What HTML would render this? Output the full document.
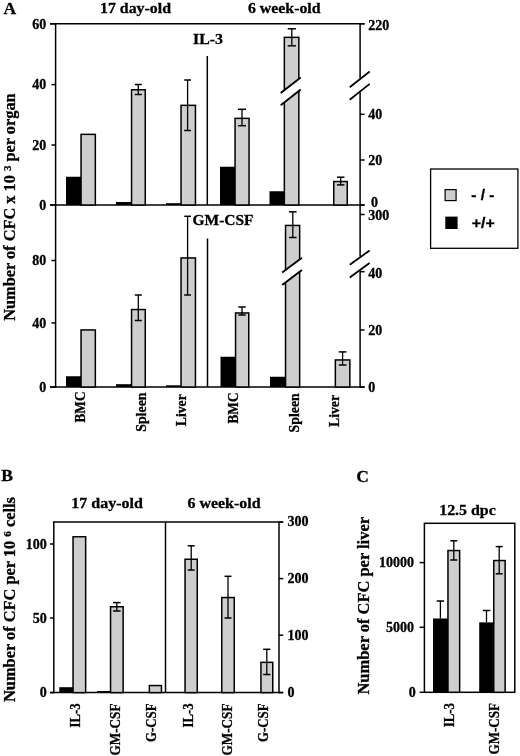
<!DOCTYPE html>
<html><head><meta charset="utf-8"><title>Figure</title>
<style>
html,body{margin:0;padding:0;background:#fff;}
svg{display:block;filter:grayscale(1);}
text{fill:#000;stroke:#000;stroke-width:0.3px;}
</style></head>
<body>
<svg width="520" height="756" viewBox="0 0 520 756">
<rect x="0" y="0" width="520" height="756" fill="#fff"/>
<text x="3.6" y="14.3" font-family='"Liberation Serif","DejaVu Serif",serif' font-weight="bold" font-size="17.5" text-anchor="start" >A</text>
<text x="100" y="13" font-family='"Liberation Serif","DejaVu Serif",serif' font-weight="bold" font-size="15" text-anchor="start" textLength="71" lengthAdjust="spacingAndGlyphs" >17 day-old</text>
<text x="248" y="13" font-family='"Liberation Serif","DejaVu Serif",serif' font-weight="bold" font-size="15" text-anchor="start" textLength="72.5" lengthAdjust="spacingAndGlyphs" >6 week-old</text>
<line x1="50" y1="23.8" x2="364.6" y2="23.8" stroke="#000" stroke-width="1.5" />
<line x1="55.6" y1="23.05" x2="55.6" y2="387.75" stroke="#000" stroke-width="1.5" />
<line x1="50" y1="205.0" x2="364.6" y2="205.0" stroke="#000" stroke-width="1.5" />
<line x1="50" y1="387.0" x2="364.6" y2="387.0" stroke="#000" stroke-width="1.5" />
<line x1="360.1" y1="23.8" x2="360.1" y2="78.5" stroke="#000" stroke-width="1.5" />
<line x1="360.1" y1="92.3" x2="360.1" y2="256.5" stroke="#000" stroke-width="1.5" />
<line x1="360.1" y1="270.5" x2="360.1" y2="387.75" stroke="#000" stroke-width="1.5" />
<line x1="50" y1="23.8" x2="55.6" y2="23.8" stroke="#000" stroke-width="1.5" />
<text x="46.3" y="28.55" font-family='"Liberation Serif","DejaVu Serif",serif' font-weight="bold" font-size="14" text-anchor="end" >60</text>
<line x1="51.5" y1="84.6" x2="55.6" y2="84.6" stroke="#000" stroke-width="1.5" />
<text x="46.3" y="89.35" font-family='"Liberation Serif","DejaVu Serif",serif' font-weight="bold" font-size="14" text-anchor="end" >40</text>
<line x1="51.5" y1="145" x2="55.6" y2="145" stroke="#000" stroke-width="1.5" />
<text x="46.3" y="149.75" font-family='"Liberation Serif","DejaVu Serif",serif' font-weight="bold" font-size="14" text-anchor="end" >20</text>
<line x1="50" y1="205.0" x2="55.6" y2="205.0" stroke="#000" stroke-width="1.5" />
<text x="46.3" y="209.75" font-family='"Liberation Serif","DejaVu Serif",serif' font-weight="bold" font-size="14" text-anchor="end" >0</text>
<line x1="51.5" y1="260.5" x2="55.6" y2="260.5" stroke="#000" stroke-width="1.5" />
<text x="46.3" y="265.25" font-family='"Liberation Serif","DejaVu Serif",serif' font-weight="bold" font-size="14" text-anchor="end" >80</text>
<line x1="51.5" y1="323" x2="55.6" y2="323" stroke="#000" stroke-width="1.5" />
<text x="46.3" y="327.75" font-family='"Liberation Serif","DejaVu Serif",serif' font-weight="bold" font-size="14" text-anchor="end" >40</text>
<line x1="50" y1="387.0" x2="55.6" y2="387.0" stroke="#000" stroke-width="1.5" />
<text x="46.3" y="391.75" font-family='"Liberation Serif","DejaVu Serif",serif' font-weight="bold" font-size="14" text-anchor="end" >0</text>
<line x1="360.1" y1="23.8" x2="364.6" y2="23.8" stroke="#000" stroke-width="1.5" />
<text x="368.3" y="29.55" font-family='"Liberation Serif","DejaVu Serif",serif' font-weight="bold" font-size="14" text-anchor="start" >220</text>
<line x1="360.1" y1="114.3" x2="364.6" y2="114.3" stroke="#000" stroke-width="1.5" />
<text x="368.3" y="119.05" font-family='"Liberation Serif","DejaVu Serif",serif' font-weight="bold" font-size="14" text-anchor="start" >40</text>
<line x1="360.1" y1="160" x2="364.6" y2="160" stroke="#000" stroke-width="1.5" />
<text x="368.3" y="164.75" font-family='"Liberation Serif","DejaVu Serif",serif' font-weight="bold" font-size="14" text-anchor="start" >20</text>
<line x1="360.1" y1="205.0" x2="364.6" y2="205.0" stroke="#000" stroke-width="1.5" />
<text x="371.0" y="206.75" font-family='"Liberation Serif","DejaVu Serif",serif' font-weight="bold" font-size="14" text-anchor="start" >0</text>
<line x1="360.1" y1="214.5" x2="364.6" y2="214.5" stroke="#000" stroke-width="1.5" />
<text x="368.3" y="220.25" font-family='"Liberation Serif","DejaVu Serif",serif' font-weight="bold" font-size="14" text-anchor="start" >300</text>
<line x1="360.1" y1="271.7" x2="364.6" y2="271.7" stroke="#000" stroke-width="1.5" />
<text x="368.3" y="277.75" font-family='"Liberation Serif","DejaVu Serif",serif' font-weight="bold" font-size="14" text-anchor="start" >40</text>
<line x1="360.1" y1="330" x2="364.6" y2="330" stroke="#000" stroke-width="1.5" />
<text x="368.3" y="334.75" font-family='"Liberation Serif","DejaVu Serif",serif' font-weight="bold" font-size="14" text-anchor="start" >20</text>
<line x1="360.1" y1="387.0" x2="364.6" y2="387.0" stroke="#000" stroke-width="1.5" />
<text x="368.3" y="391.75" font-family='"Liberation Serif","DejaVu Serif",serif' font-weight="bold" font-size="14" text-anchor="start" >0</text>
<line x1="207.3" y1="56" x2="207.3" y2="205.0" stroke="#000" stroke-width="1.5" />
<line x1="207.5" y1="238.5" x2="207.5" y2="387.0" stroke="#000" stroke-width="1.5" />
<text x="193" y="43.8" font-family='"Liberation Serif","DejaVu Serif",serif' font-weight="bold" font-size="14.5" text-anchor="start" textLength="30" lengthAdjust="spacingAndGlyphs" >IL-3</text>
<text x="192.5" y="225" font-family='"Liberation Serif","DejaVu Serif",serif' font-weight="bold" font-size="14.5" text-anchor="start" textLength="61" lengthAdjust="spacingAndGlyphs" >GM-CSF</text>
<rect x="66" y="176.75" width="15" height="28.25" fill="#000"/>
<rect x="81.05" y="134.35" width="14.299999999999997" height="70.65" fill="#cecece" stroke="#000" stroke-width="1.5"/>
<rect x="116" y="202" width="15.5" height="3.0" fill="#000"/>
<rect x="131.55" y="89.75" width="13.699999999999989" height="115.25" fill="#cecece" stroke="#000" stroke-width="1.5"/>
<line x1="138.3" y1="84.5" x2="138.3" y2="94.5" stroke="#000" stroke-width="1.3" />
<line x1="134.8" y1="84.5" x2="141.8" y2="84.5" stroke="#000" stroke-width="1.5" />
<line x1="134.8" y1="94.5" x2="141.8" y2="94.5" stroke="#000" stroke-width="1.5" />
<rect x="166" y="203.2" width="15" height="1.8000000000000114" fill="#000"/>
<rect x="181.05" y="105.35" width="14.399999999999977" height="99.65" fill="#cecece" stroke="#000" stroke-width="1.5"/>
<line x1="187.6" y1="80" x2="187.6" y2="130.5" stroke="#000" stroke-width="1.3" />
<line x1="184.2" y1="80" x2="191.0" y2="80" stroke="#000" stroke-width="1.5" />
<line x1="184.2" y1="130.5" x2="191.0" y2="130.5" stroke="#000" stroke-width="1.5" />
<rect x="220" y="166.75" width="15" height="38.25" fill="#000"/>
<rect x="235.05" y="118.35" width="14.0" height="86.65" fill="#cecece" stroke="#000" stroke-width="1.5"/>
<line x1="242" y1="109.3" x2="242" y2="125.7" stroke="#000" stroke-width="1.3" />
<line x1="238.0" y1="109.3" x2="246.0" y2="109.3" stroke="#000" stroke-width="1.5" />
<line x1="238.0" y1="125.7" x2="246.0" y2="125.7" stroke="#000" stroke-width="1.5" />
<rect x="269.5" y="191.25" width="15.0" height="13.75" fill="#000"/>
<rect x="284.35" y="37.35" width="14.5" height="167.65" fill="#cecece" stroke="#000" stroke-width="1.5"/>
<line x1="291.8" y1="28.8" x2="291.8" y2="45.8" stroke="#000" stroke-width="1.3" />
<line x1="287.7" y1="28.8" x2="295.90000000000003" y2="28.8" stroke="#000" stroke-width="1.5" />
<line x1="287.7" y1="45.8" x2="295.90000000000003" y2="45.8" stroke="#000" stroke-width="1.5" />
<rect x="333.75" y="181.55" width="13.5" height="23.44999999999999" fill="#cecece" stroke="#000" stroke-width="1.5"/>
<line x1="340.7" y1="177.2" x2="340.7" y2="184.9" stroke="#000" stroke-width="1.3" />
<line x1="336.95" y1="177.2" x2="344.45" y2="177.2" stroke="#000" stroke-width="1.5" />
<line x1="336.95" y1="184.9" x2="344.45" y2="184.9" stroke="#000" stroke-width="1.5" />
<rect x="66" y="376.25" width="15" height="10.75" fill="#000"/>
<rect x="81.05" y="329.95" width="14.299999999999997" height="57.05000000000001" fill="#cecece" stroke="#000" stroke-width="1.5"/>
<rect x="116" y="384.2" width="15.5" height="2.8000000000000114" fill="#000"/>
<rect x="131.55" y="309.55" width="13.699999999999989" height="77.44999999999999" fill="#cecece" stroke="#000" stroke-width="1.5"/>
<line x1="138.3" y1="295" x2="138.3" y2="320.5" stroke="#000" stroke-width="1.3" />
<line x1="134.8" y1="295" x2="141.8" y2="295" stroke="#000" stroke-width="1.5" />
<line x1="134.8" y1="320.5" x2="141.8" y2="320.5" stroke="#000" stroke-width="1.5" />
<rect x="166" y="385.3" width="15" height="1.6999999999999886" fill="#000"/>
<rect x="181.05" y="257.95" width="14.399999999999977" height="129.05" fill="#cecece" stroke="#000" stroke-width="1.5"/>
<line x1="187.6" y1="216.3" x2="187.6" y2="295" stroke="#000" stroke-width="1.3" />
<line x1="184.2" y1="216.3" x2="191.0" y2="216.3" stroke="#000" stroke-width="1.5" />
<line x1="184.2" y1="295" x2="191.0" y2="295" stroke="#000" stroke-width="1.5" />
<rect x="220.5" y="356.75" width="15.0" height="30.25" fill="#000"/>
<rect x="235.55" y="312.95" width="13.199999999999989" height="74.05000000000001" fill="#cecece" stroke="#000" stroke-width="1.5"/>
<line x1="242" y1="307" x2="242" y2="315" stroke="#000" stroke-width="1.3" />
<line x1="238.25" y1="307" x2="245.75" y2="307" stroke="#000" stroke-width="1.5" />
<line x1="238.25" y1="315" x2="245.75" y2="315" stroke="#000" stroke-width="1.5" />
<rect x="270" y="376.75" width="15.5" height="10.25" fill="#000"/>
<rect x="285.55" y="225.45" width="14.099999999999966" height="161.55" fill="#cecece" stroke="#000" stroke-width="1.5"/>
<line x1="292.8" y1="211.8" x2="292.8" y2="237.5" stroke="#000" stroke-width="1.3" />
<line x1="289.0" y1="211.8" x2="296.6" y2="211.8" stroke="#000" stroke-width="1.5" />
<line x1="289.0" y1="237.5" x2="296.6" y2="237.5" stroke="#000" stroke-width="1.5" />
<rect x="335.35" y="359.95" width="14.5" height="27.05000000000001" fill="#cecece" stroke="#000" stroke-width="1.5"/>
<line x1="342.6" y1="351.9" x2="342.6" y2="365" stroke="#000" stroke-width="1.3" />
<line x1="338.75" y1="351.9" x2="346.45000000000005" y2="351.9" stroke="#000" stroke-width="1.5" />
<line x1="338.75" y1="365" x2="346.45000000000005" y2="365" stroke="#000" stroke-width="1.5" />
<polygon points="280.7,93.0 300.7,77.4 300.7,89.60000000000001 280.7,105.2" fill="#fff"/>
<line x1="280.7" y1="93.0" x2="300.7" y2="77.4" stroke="#000" stroke-width="1.9" />
<line x1="280.7" y1="105.2" x2="300.7" y2="89.60000000000001" stroke="#000" stroke-width="1.9" />
<polygon points="282.2,272.6 301.9,257.8 301.9,270.1 282.2,284.90000000000003" fill="#fff"/>
<line x1="282.2" y1="272.6" x2="301.9" y2="257.8" stroke="#000" stroke-width="1.9" />
<line x1="282.2" y1="284.90000000000003" x2="301.9" y2="270.1" stroke="#000" stroke-width="1.9" />
<polygon points="349.7,87.3 369.7,71.5 369.7,83.9 349.7,99.7" fill="#fff"/>
<line x1="349.7" y1="87.3" x2="369.7" y2="71.5" stroke="#000" stroke-width="1.8" />
<line x1="349.7" y1="99.7" x2="369.7" y2="83.9" stroke="#000" stroke-width="1.8" />
<polygon points="349.8,264.8 369.6,250.4 369.6,263.1 349.8,277.5" fill="#fff"/>
<line x1="349.8" y1="264.8" x2="369.6" y2="250.4" stroke="#000" stroke-width="1.8" />
<line x1="349.8" y1="277.5" x2="369.6" y2="263.1" stroke="#000" stroke-width="1.8" />
<text x="85" y="391.5" font-family='"Liberation Serif","DejaVu Serif",serif' font-weight="bold" font-size="15" text-anchor="end" textLength="31" lengthAdjust="spacingAndGlyphs" transform="rotate(-90 85 391.5)" >BMC</text>
<text x="146.3" y="392.5" font-family='"Liberation Serif","DejaVu Serif",serif' font-weight="bold" font-size="15" text-anchor="end" textLength="39.3" lengthAdjust="spacingAndGlyphs" transform="rotate(-90 146.3 392.5)" >Spleen</text>
<text x="185.8" y="394.2" font-family='"Liberation Serif","DejaVu Serif",serif' font-weight="bold" font-size="15" text-anchor="end" textLength="32" lengthAdjust="spacingAndGlyphs" transform="rotate(-90 185.8 394.2)" >Liver</text>
<text x="237.6" y="392.5" font-family='"Liberation Serif","DejaVu Serif",serif' font-weight="bold" font-size="15" text-anchor="end" textLength="31" lengthAdjust="spacingAndGlyphs" transform="rotate(-90 237.6 392.5)" >BMC</text>
<text x="299.3" y="393.2" font-family='"Liberation Serif","DejaVu Serif",serif' font-weight="bold" font-size="15" text-anchor="end" textLength="39.3" lengthAdjust="spacingAndGlyphs" transform="rotate(-90 299.3 393.2)" >Spleen</text>
<text x="339.3" y="395" font-family='"Liberation Serif","DejaVu Serif",serif' font-weight="bold" font-size="15" text-anchor="end" textLength="32" lengthAdjust="spacingAndGlyphs" transform="rotate(-90 339.3 395)" >Liver</text>
<text x="15.3" y="320.8" font-family='"Liberation Serif","DejaVu Serif",serif' font-weight="bold" font-size="16.5" text-anchor="start" textLength="227.5" lengthAdjust="spacingAndGlyphs" transform="rotate(-90 15.3 320.8)" >Number of CFC x 10 <tspan font-size="11" dy="-4.5">3</tspan><tspan dy="4.5"> per organ</tspan></text>
<rect x="430.6" y="169" width="87.3" height="79.3" fill="#fff" stroke="#000" stroke-width="1.3"/>
<rect x="445.1" y="189.6" width="11" height="11" fill="#cecece" stroke="#000" stroke-width="1.2"/>
<rect x="445.3" y="216.6" width="12.3" height="12.4" fill="#000"/>
<text x="471.3" y="200" font-family='"Liberation Sans","DejaVu Sans",sans-serif' font-weight="bold" font-size="14.5" text-anchor="start" textLength="23" lengthAdjust="spacingAndGlyphs" >- / -</text>
<text x="471.7" y="227.5" font-family='"Liberation Sans","DejaVu Sans",sans-serif' font-weight="bold" font-size="14.5" text-anchor="start" textLength="23" lengthAdjust="spacingAndGlyphs" >+/+</text>
<text x="1.2" y="480.6" font-family='"Liberation Serif","DejaVu Serif",serif' font-weight="bold" font-size="17.5" text-anchor="start" >B</text>
<text x="71.3" y="508.4" font-family='"Liberation Serif","DejaVu Serif",serif' font-weight="bold" font-size="15" text-anchor="start" textLength="71.5" lengthAdjust="spacingAndGlyphs" >17 day-old</text>
<text x="187.5" y="508.4" font-family='"Liberation Serif","DejaVu Serif",serif' font-weight="bold" font-size="15" text-anchor="start" textLength="73" lengthAdjust="spacingAndGlyphs" >6 week-old</text>
<line x1="53.8" y1="522" x2="283.2" y2="522" stroke="#000" stroke-width="1.5" />
<line x1="53.8" y1="521.25" x2="53.8" y2="693.35" stroke="#000" stroke-width="1.5" />
<line x1="279" y1="522" x2="279" y2="693.35" stroke="#000" stroke-width="1.5" />
<line x1="50" y1="692.6" x2="283.2" y2="692.6" stroke="#000" stroke-width="1.5" />
<line x1="165.5" y1="522" x2="165.5" y2="692.6" stroke="#000" stroke-width="1.5" />
<line x1="50" y1="544" x2="53.8" y2="544" stroke="#000" stroke-width="1.5" />
<text x="46.8" y="548.75" font-family='"Liberation Serif","DejaVu Serif",serif' font-weight="bold" font-size="14" text-anchor="end" >100</text>
<line x1="50" y1="618" x2="53.8" y2="618" stroke="#000" stroke-width="1.5" />
<text x="46.8" y="622.75" font-family='"Liberation Serif","DejaVu Serif",serif' font-weight="bold" font-size="14" text-anchor="end" >50</text>
<line x1="50" y1="692.6" x2="53.8" y2="692.6" stroke="#000" stroke-width="1.5" />
<text x="46.8" y="697.35" font-family='"Liberation Serif","DejaVu Serif",serif' font-weight="bold" font-size="14" text-anchor="end" >0</text>
<line x1="279" y1="522" x2="283.2" y2="522" stroke="#000" stroke-width="1.5" />
<text x="287.5" y="525.8" font-family='"Liberation Serif","DejaVu Serif",serif' font-weight="bold" font-size="14" text-anchor="start" >300</text>
<line x1="279" y1="578.6" x2="283.2" y2="578.6" stroke="#000" stroke-width="1.5" />
<text x="287.5" y="582.9" font-family='"Liberation Serif","DejaVu Serif",serif' font-weight="bold" font-size="14" text-anchor="start" >200</text>
<line x1="279" y1="635.2" x2="283.2" y2="635.2" stroke="#000" stroke-width="1.5" />
<text x="287.5" y="639.5" font-family='"Liberation Serif","DejaVu Serif",serif' font-weight="bold" font-size="14" text-anchor="start" >100</text>
<line x1="279" y1="692.6" x2="283.2" y2="692.6" stroke="#000" stroke-width="1.5" />
<text x="287.5" y="696.9" font-family='"Liberation Serif","DejaVu Serif",serif' font-weight="bold" font-size="14" text-anchor="start" >0</text>
<rect x="59.3" y="687.2" width="13.700000000000003" height="5.399999999999977" fill="#000"/>
<rect x="73.05" y="536.75" width="12.600000000000009" height="155.85000000000002" fill="#cecece" stroke="#000" stroke-width="1.5"/>
<rect x="97" y="691" width="13.5" height="1.6000000000000227" fill="#000"/>
<rect x="110.55" y="606.75" width="12.600000000000009" height="85.85000000000002" fill="#cecece" stroke="#000" stroke-width="1.5"/>
<line x1="116.8" y1="602.6" x2="116.8" y2="611" stroke="#000" stroke-width="1.3" />
<line x1="113.0" y1="602.6" x2="120.6" y2="602.6" stroke="#000" stroke-width="1.5" />
<line x1="113.0" y1="611" x2="120.6" y2="611" stroke="#000" stroke-width="1.5" />
<rect x="149.35" y="685.55" width="12.099999999999994" height="7.050000000000068" fill="#cecece" stroke="#000" stroke-width="1.5"/>
<rect x="185.05" y="559.25" width="12.199999999999989" height="133.35000000000002" fill="#cecece" stroke="#000" stroke-width="1.5"/>
<line x1="191.2" y1="545.8" x2="191.2" y2="570" stroke="#000" stroke-width="1.3" />
<line x1="187.7" y1="545.8" x2="194.7" y2="545.8" stroke="#000" stroke-width="1.5" />
<line x1="187.7" y1="570" x2="194.7" y2="570" stroke="#000" stroke-width="1.5" />
<rect x="221.75" y="597.55" width="12.5" height="95.05000000000007" fill="#cecece" stroke="#000" stroke-width="1.5"/>
<line x1="228" y1="576.3" x2="228" y2="618" stroke="#000" stroke-width="1.3" />
<line x1="224.5" y1="576.3" x2="231.5" y2="576.3" stroke="#000" stroke-width="1.5" />
<line x1="224.5" y1="618" x2="231.5" y2="618" stroke="#000" stroke-width="1.5" />
<rect x="260.95" y="662.35" width="11.800000000000011" height="30.25" fill="#cecece" stroke="#000" stroke-width="1.5"/>
<line x1="266.8" y1="649.3" x2="266.8" y2="674.5" stroke="#000" stroke-width="1.3" />
<line x1="263.2" y1="649.3" x2="270.40000000000003" y2="649.3" stroke="#000" stroke-width="1.5" />
<line x1="263.2" y1="674.5" x2="270.40000000000003" y2="674.5" stroke="#000" stroke-width="1.5" />
<text x="80.3" y="703.5" font-family='"Liberation Serif","DejaVu Serif",serif' font-weight="bold" font-size="15" text-anchor="end" textLength="24" lengthAdjust="spacingAndGlyphs" transform="rotate(-90 80.3 703.5)" >IL-3</text>
<text x="120" y="703.5" font-family='"Liberation Serif","DejaVu Serif",serif' font-weight="bold" font-size="15" text-anchor="end" textLength="52" lengthAdjust="spacingAndGlyphs" transform="rotate(-90 120 703.5)" >GM-CSF</text>
<text x="155.8" y="703.5" font-family='"Liberation Serif","DejaVu Serif",serif' font-weight="bold" font-size="15" text-anchor="end" textLength="38.6" lengthAdjust="spacingAndGlyphs" transform="rotate(-90 155.8 703.5)" >G-CSF</text>
<text x="192.5" y="703.5" font-family='"Liberation Serif","DejaVu Serif",serif' font-weight="bold" font-size="15" text-anchor="end" textLength="24" lengthAdjust="spacingAndGlyphs" transform="rotate(-90 192.5 703.5)" >IL-3</text>
<text x="232.3" y="703.5" font-family='"Liberation Serif","DejaVu Serif",serif' font-weight="bold" font-size="15" text-anchor="end" textLength="52" lengthAdjust="spacingAndGlyphs" transform="rotate(-90 232.3 703.5)" >GM-CSF</text>
<text x="267.6" y="703.5" font-family='"Liberation Serif","DejaVu Serif",serif' font-weight="bold" font-size="15" text-anchor="end" textLength="38.6" lengthAdjust="spacingAndGlyphs" transform="rotate(-90 267.6 703.5)" >G-CSF</text>
<text x="15.2" y="702.0" font-family='"Liberation Serif","DejaVu Serif",serif' font-weight="bold" font-size="16" text-anchor="start" textLength="205" lengthAdjust="spacingAndGlyphs" transform="rotate(-90 15.2 702.0)" >Number of CFC per 10 <tspan font-size="11" dy="-4.2">6</tspan><tspan dy="4.2"> cells</tspan></text>
<text x="356.3" y="481.6" font-family='"Liberation Serif","DejaVu Serif",serif' font-weight="bold" font-size="17.5" text-anchor="start" >C</text>
<text x="439.2" y="515" font-family='"Liberation Serif","DejaVu Serif",serif' font-weight="bold" font-size="15" text-anchor="start" textLength="56.6" lengthAdjust="spacingAndGlyphs" >12.5 dpc</text>
<rect x="424.4" y="523.3" width="90.39999999999998" height="169.0" fill="none" stroke="#000" stroke-width="1.5"/>
<line x1="419.6" y1="562.6" x2="424.4" y2="562.6" stroke="#000" stroke-width="1.5" />
<text x="414.0" y="567.35" font-family='"Liberation Serif","DejaVu Serif",serif' font-weight="bold" font-size="14" text-anchor="end" >10000</text>
<line x1="419.6" y1="627.3" x2="424.4" y2="627.3" stroke="#000" stroke-width="1.5" />
<text x="414.0" y="632.05" font-family='"Liberation Serif","DejaVu Serif",serif' font-weight="bold" font-size="14" text-anchor="end" >5000</text>
<line x1="419.6" y1="692.3" x2="424.4" y2="692.3" stroke="#000" stroke-width="1.5" />
<text x="415.8" y="697.05" font-family='"Liberation Serif","DejaVu Serif",serif' font-weight="bold" font-size="14" text-anchor="end" >0</text>
<rect x="433" y="618.5" width="15" height="73.79999999999995" fill="#000"/>
<line x1="440.4" y1="601" x2="440.4" y2="618.5" stroke="#000" stroke-width="1.3" />
<line x1="436.7" y1="601" x2="444.09999999999997" y2="601" stroke="#000" stroke-width="1.5" />
<rect x="447.95" y="550.55" width="11.699999999999989" height="141.75" fill="#cecece" stroke="#000" stroke-width="1.5"/>
<line x1="453.8" y1="540.8" x2="453.8" y2="560" stroke="#000" stroke-width="1.3" />
<line x1="450.3" y1="540.8" x2="457.3" y2="540.8" stroke="#000" stroke-width="1.5" />
<line x1="450.3" y1="560" x2="457.3" y2="560" stroke="#000" stroke-width="1.5" />
<rect x="479.2" y="622.4" width="14.5" height="69.89999999999998" fill="#000"/>
<line x1="486.5" y1="610.5" x2="486.5" y2="622.4" stroke="#000" stroke-width="1.3" />
<line x1="482.7" y1="610.5" x2="490.3" y2="610.5" stroke="#000" stroke-width="1.5" />
<rect x="493.75" y="560.55" width="11.399999999999977" height="131.75" fill="#cecece" stroke="#000" stroke-width="1.5"/>
<line x1="499.2" y1="546.6" x2="499.2" y2="573.8" stroke="#000" stroke-width="1.3" />
<line x1="495.7" y1="546.6" x2="502.7" y2="546.6" stroke="#000" stroke-width="1.5" />
<line x1="495.7" y1="573.8" x2="502.7" y2="573.8" stroke="#000" stroke-width="1.5" />
<text x="453.6" y="703" font-family='"Liberation Serif","DejaVu Serif",serif' font-weight="bold" font-size="15" text-anchor="end" textLength="24.3" lengthAdjust="spacingAndGlyphs" transform="rotate(-90 453.6 703)" >IL-3</text>
<text x="499.0" y="703" font-family='"Liberation Serif","DejaVu Serif",serif' font-weight="bold" font-size="15" text-anchor="end" textLength="51.5" lengthAdjust="spacingAndGlyphs" transform="rotate(-90 499.0 703)" >GM-CSF</text>
<text x="369.3" y="694.5" font-family='"Liberation Serif","DejaVu Serif",serif' font-weight="bold" font-size="16" text-anchor="start" textLength="177.5" lengthAdjust="spacingAndGlyphs" transform="rotate(-90 369.3 694.5)" >Number of CFC per liver</text>
</svg>
</body></html>
